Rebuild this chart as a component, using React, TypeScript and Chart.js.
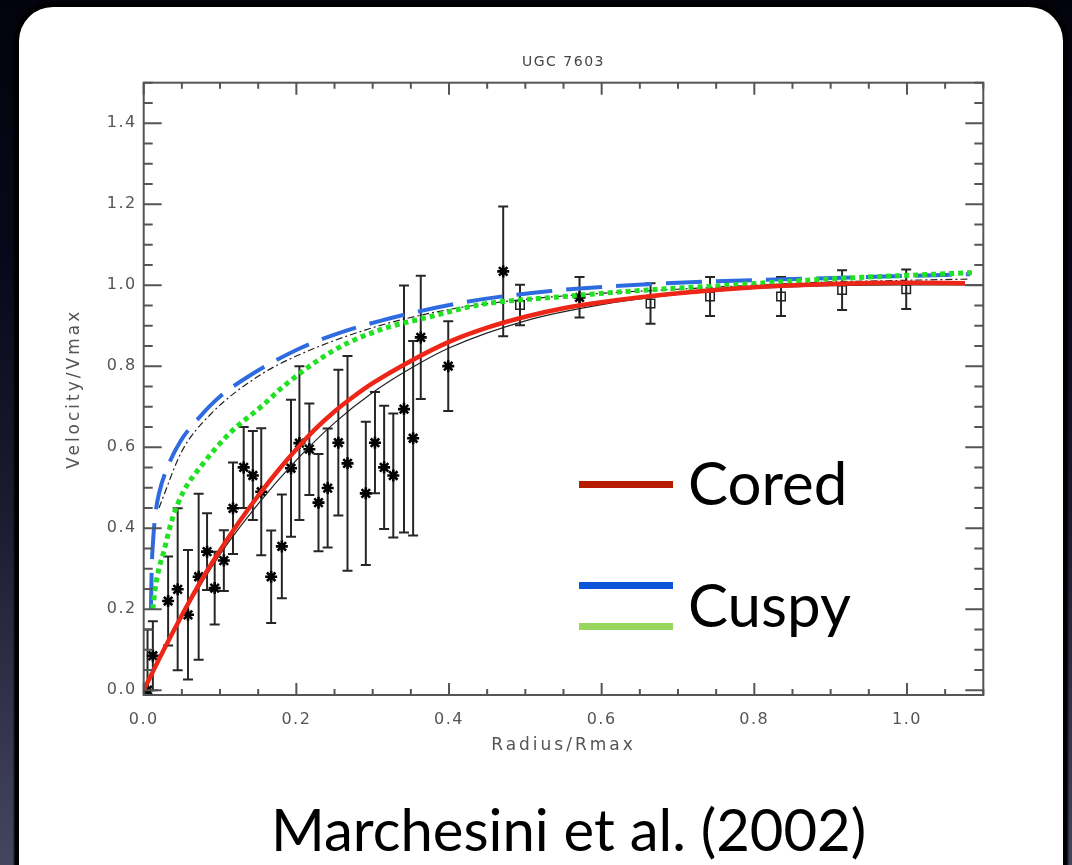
import React, { useEffect, useRef } from 'react';
import { Chart, registerables } from 'chart.js';

Chart.register(...registerables);

// ---- axis ticks ----
const xTickValues = [0, 0.2, 0.4, 0.6, 0.8, 1.0];
const yTickValues = [0, 0.2, 0.4, 0.6, 0.8, 1.0, 1.2, 1.4];
const X_MIN = 0;
const X_MAX = 1.1;
const Y_MIN = -0.012;
const Y_MAX = 1.5;
const MINOR_STEP = 0.05;

// ---- model curves ----
const coredX = [0, 0.025, 0.05, 0.075, 0.1, 0.125, 0.15, 0.175, 0.2, 0.225, 0.25, 0.275, 0.3, 0.35, 0.4, 0.45, 0.5, 0.55, 0.6, 0.7, 0.8, 0.9, 1.0, 1.076];
const coredY = [0, 0.095, 0.185, 0.27, 0.345, 0.415, 0.48, 0.54, 0.595, 0.645, 0.688, 0.725, 0.758, 0.813, 0.86, 0.895, 0.922, 0.943, 0.958, 0.98, 0.995, 1.003, 1.006, 1.005];

const blackSolidX = [0, 0.05, 0.1, 0.15, 0.2, 0.25, 0.3, 0.35, 0.4, 0.5, 0.6, 0.7, 0.8, 0.9, 1.0, 1.1];
const blackSolidY = [0, 0.18, 0.335, 0.46, 0.568, 0.66, 0.735, 0.795, 0.845, 0.912, 0.952, 0.977, 0.992, 0.999, 1.001, 1.001];

const blueX = [0.0095, 0.0105, 0.012, 0.015, 0.02, 0.03, 0.048, 0.075, 0.1, 0.135, 0.2, 0.25, 0.31, 0.42, 0.53, 0.7, 0.85, 1.083];
const blueY = [0.2, 0.3, 0.36, 0.43, 0.485, 0.545, 0.614, 0.678, 0.725, 0.772, 0.84, 0.878, 0.912, 0.958, 0.985, 1.006, 1.015, 1.027];

const greenX = [0.012, 0.015, 0.02, 0.026, 0.037, 0.052, 0.076, 0.113, 0.157, 0.183, 0.25, 0.31, 0.375, 0.441, 0.55, 0.659, 0.742, 0.895, 1.085];
const greenY = [0.2, 0.25, 0.3, 0.34, 0.42, 0.49, 0.555, 0.635, 0.705, 0.75, 0.84, 0.89, 0.922, 0.952, 0.972, 0.988, 0.997, 1.015, 1.031];

const dashDotX = [0.02, 0.05, 0.087, 0.15, 0.2, 0.3, 0.4, 0.5, 0.6, 0.7, 0.8, 0.9, 1.0, 1.08];
const dashDotY = [0.45, 0.59, 0.68, 0.775, 0.825, 0.895, 0.94, 0.965, 0.98, 0.99, 1.0, 1.008, 1.012, 1.015];

// ---- observed data (asterisks) ----
const starX = [0.005, 0.012, 0.032, 0.0445, 0.058, 0.072, 0.083, 0.093, 0.105, 0.117, 0.131, 0.143, 0.154, 0.167, 0.181, 0.193, 0.204, 0.217, 0.229, 0.241, 0.255, 0.267, 0.291, 0.303, 0.315, 0.327, 0.341, 0.353, 0.363, 0.399, 0.471, 0.571];
const starY = [0.0, 0.085, 0.22, 0.249, 0.186, 0.28, 0.342, 0.252, 0.32, 0.449, 0.55, 0.53, 0.49, 0.28, 0.355, 0.548, 0.61, 0.595, 0.463, 0.499, 0.611, 0.56, 0.486, 0.611, 0.55, 0.53, 0.694, 0.622, 0.871, 0.8, 1.034, 0.97];
const starErr = [0.15, 0.085, 0.11, 0.2, 0.16, 0.205, 0.095, 0.09, 0.075, 0.113, 0.1, 0.11, 0.157, 0.114, 0.128, 0.169, 0.19, 0.113, 0.12, 0.147, 0.18, 0.265, 0.177, 0.125, 0.152, 0.153, 0.305, 0.24, 0.152, 0.111, 0.16, 0.05];

// ---- observed data (open squares) ----
const squareX = [0.493, 0.664, 0.742, 0.835, 0.915, 0.999];
const squareY = [0.951, 0.955, 0.972, 0.972, 0.988, 0.99];
const squareErr = [0.05, 0.05, 0.048, 0.048, 0.049, 0.049];

const zip = (xs: number[], ys: number[]) => xs.map((x, i) => ({ x, y: ys[i] }));

const errorBarPlugin = {
  id: 'errorBars',
  beforeDatasetsDraw(chart: any) {
    const { ctx, chartArea, scales } = chart;
    const xs = scales.x;
    const ys = scales.y;
    ctx.save();
    ctx.beginPath();
    ctx.rect(chartArea.left, chartArea.top, chartArea.right - chartArea.left, chartArea.bottom - chartArea.top);
    ctx.clip();
    ctx.strokeStyle = 'rgba(0,0,0,0.85)';
    ctx.lineWidth = 2;
    const draw = (px: number[], py: number[], pe: number[]) => {
      for (let i = 0; i < px.length; i++) {
        const x = xs.getPixelForValue(px[i]);
        const yTop = ys.getPixelForValue(py[i] + pe[i]);
        const yBot = ys.getPixelForValue(py[i] - pe[i]);
        ctx.beginPath();
        ctx.moveTo(x, yTop);
        ctx.lineTo(x, yBot);
        ctx.moveTo(x - 5, yTop);
        ctx.lineTo(x + 5, yTop);
        ctx.moveTo(x - 5, yBot);
        ctx.lineTo(x + 5, yBot);
        ctx.stroke();
      }
    };
    draw(starX, starY, starErr);
    draw(squareX, squareY, squareErr);
    ctx.restore();
  },
};

const frameTicksPlugin = {
  id: 'frameTicks',
  afterDatasetsDraw(chart: any) {
    const { ctx, chartArea, scales } = chart;
    const { left, right, top, bottom } = chartArea;
    ctx.save();
    ctx.strokeStyle = '#555';
    ctx.lineWidth = 2;
    ctx.strokeRect(left, top, right - left, bottom - top);
    ctx.beginPath();
    const xMajor = new Set(xTickValues.map((v) => v.toFixed(2)));
    for (let k = 0; X_MIN + k * MINOR_STEP <= X_MAX + 1e-9; k++) {
      const v = X_MIN + k * MINOR_STEP;
      const len = xMajor.has(v.toFixed(2)) ? 12 : 6;
      const px = scales.x.getPixelForValue(v);
      ctx.moveTo(px, bottom);
      ctx.lineTo(px, bottom - len);
      ctx.moveTo(px, top);
      ctx.lineTo(px, top + len);
    }
    const yMajor = new Set(yTickValues.map((v) => v.toFixed(2)));
    for (let k = 0; k * MINOR_STEP <= Y_MAX + 1e-9; k++) {
      const v = k * MINOR_STEP;
      const len = yMajor.has(v.toFixed(2)) ? 18 : 9;
      const py = scales.y.getPixelForValue(v);
      ctx.moveTo(left, py);
      ctx.lineTo(left + len, py);
      ctx.moveTo(right, py);
      ctx.lineTo(right - len, py);
    }
    ctx.stroke();
    ctx.restore();
  },
};

// wide letter spacing for the axis titles (drawn before the datasets),
// narrower for tick labels and the plot title (drawn after them)
const spacingPlugin = {
  id: 'letterSpacing',
  beforeDraw(chart: any) {
    (chart.ctx as any).letterSpacing = '3px';
  },
  beforeDatasetsDraw(chart: any) {
    (chart.ctx as any).letterSpacing = '1.5px';
  },
  afterDraw(chart: any) {
    (chart.ctx as any).letterSpacing = '0px';
  },
};

const tickFont = { family: 'DejaVu Sans', size: 16 };
const axisTitleFont = { family: 'DejaVu Sans', size: 17 };

function App() {
  const canvasRef = useRef<HTMLCanvasElement | null>(null);

  useEffect(() => {
    const canvas = canvasRef.current;
    if (!canvas) return;
    const chart = new Chart(canvas, {
      type: 'line',
      data: {
        datasets: [
          {
            label: 'Cored',
            data: zip(coredX, coredY),
            borderColor: '#ee2618',
            borderWidth: 4.5,
            pointRadius: 0,
            cubicInterpolationMode: 'monotone',
          },
          {
            label: 'Cuspy (NFW)',
            data: zip(greenX, greenY),
            borderColor: '#22e022',
            borderWidth: 5,
            borderDash: [5, 4],
            pointRadius: 0,
            cubicInterpolationMode: 'monotone',
          },
          {
            label: 'Cuspy (Moore)',
            data: zip(blueX, blueY),
            borderColor: '#2f6be0',
            borderWidth: 4,
            borderDash: [36, 14],
            pointRadius: 0,
            cubicInterpolationMode: 'monotone',
          },
          {
            label: 'fit dash-dot',
            data: zip(dashDotX, dashDotY),
            borderColor: '#222',
            borderWidth: 1.2,
            borderDash: [7, 3, 2, 3],
            pointRadius: 0,
            cubicInterpolationMode: 'monotone',
          },
          {
            label: 'fit solid',
            data: zip(blackSolidX, blackSolidY),
            borderColor: '#222',
            borderWidth: 1.2,
            pointRadius: 0,
            cubicInterpolationMode: 'monotone',
          },
          {
            type: 'scatter',
            label: 'data (squares)',
            data: zip(squareX, squareY),
            showLine: false,
            pointStyle: 'rect',
            pointRadius: 6,
            borderColor: '#222',
            backgroundColor: 'rgba(255,255,255,0)',
            borderWidth: 1.5,
          } as any,
          {
            type: 'scatter',
            label: 'data',
            data: zip(starX, starY),
            showLine: false,
            pointStyle: 'star',
            pointRadius: 6,
            borderColor: '#000',
            backgroundColor: '#000',
            borderWidth: 2.6,
          } as any,
        ],
      },
      options: {
        animation: false,
        responsive: false,
        devicePixelRatio: 1,
        events: [],
        layout: { padding: { left: 63.7, right: 88.7, top: 54.2, bottom: 108 } },
        plugins: {
          legend: { display: false },
          tooltip: { enabled: false },
        },
        scales: {
          x: {
            type: 'linear',
            min: X_MIN,
            max: X_MAX,
            afterFit: (s: any) => {
              s.height = 62;
            },
            afterBuildTicks: (s: any) => {
              s.ticks = xTickValues.map((v) => ({ value: v }));
            },
            grid: { display: false, drawTicks: false },
            border: { display: false },
            ticks: {
              z: 1,
              padding: 15.4,
              color: '#555',
              font: tickFont,
              maxRotation: 0,
              autoSkip: false,
              callback: (v: any) => Number(v).toFixed(1),
            },
            title: {
              display: true,
              text: 'Radius/Rmax',
              color: '#555',
              font: axisTitleFont,
              padding: { top: 0, bottom: 0.8 },
            },
          },
          xTop: {
            type: 'linear',
            axis: 'x',
            position: 'top',
            min: X_MIN,
            max: X_MAX,
            afterFit: (s: any) => {
              s.height = 28.5;
            },
            afterBuildTicks: (s: any) => {
              s.ticks = [];
            },
            grid: { display: false, drawTicks: false, z: 1 },
            border: { display: false },
            ticks: { display: false },
            title: {
              display: true,
              text: 'UGC 7603',
              color: '#444',
              font: { family: 'DejaVu Sans', size: 14 },
              padding: { top: 0, bottom: 0 },
            },
          },
          y: {
            type: 'linear',
            min: Y_MIN,
            max: Y_MAX,
            afterFit: (s: any) => {
              s.width = 80;
            },
            afterBuildTicks: (s: any) => {
              s.ticks = yTickValues.map((v) => ({ value: v }));
            },
            grid: { display: false, drawTicks: false },
            border: { display: false },
            ticks: {
              z: 1,
              padding: 7,
              color: '#555',
              font: tickFont,
              autoSkip: false,
              callback: (v: any) => Number(v).toFixed(1),
            },
            title: {
              display: true,
              text: 'Velocity/Vmax',
              color: '#555',
              font: axisTitleFont,
              padding: { top: 1.1, bottom: 0 },
            },
          },
        },
      } as any,
      plugins: [spacingPlugin, errorBarPlugin, frameTicksPlugin],
    });
    return () => chart.destroy();
  }, []);

  const legendText: React.CSSProperties = {
    position: 'absolute',
    fontFamily: 'Lato, "Open Sans", sans-serif',
    fontSize: 60,
    lineHeight: '60px',
    color: '#000',
    whiteSpace: 'nowrap',
  };
  const legendLine = (top: number, color: string): React.CSSProperties => ({
    position: 'absolute',
    left: 579,
    top,
    width: 94,
    height: 7,
    background: color,
  });

  return (
    <div
      style={{
        position: 'fixed',
        left: 0,
        top: 0,
        width: 1072,
        height: 865,
        overflow: 'hidden',
        background: 'linear-gradient(180deg, #03030c 0%, #08081a 30%, #1c1c30 60%, #35364e 85%, #44455f 100%)',
      }}
    >
      <div
        style={{
          position: 'absolute',
          left: 19,
          top: 7,
          width: 1044,
          height: 895,
          background: '#fff',
          borderRadius: 34,
          boxShadow: '0 0 2px 5px #000',
        }}
      />
      <canvas
        ref={canvasRef}
        width={1072}
        height={865}
        style={{ position: 'absolute', left: 0, top: 0, width: 1072, height: 865 }}
      />
      <div style={legendLine(481, '#b81c00')} />
      <div style={legendLine(582, '#0a55d8')} />
      <div style={legendLine(623, '#98d65e')} />
      <div style={{ ...legendText, left: 688, top: 452 }}>Cored</div>
      <div style={{ ...legendText, left: 688, top: 574 }}>Cuspy</div>
      <div style={{ ...legendText, left: 271, top: 799, fontSize: 58 }}>Marchesini et al. (2002)</div>
    </div>
  );
}

export default App;
